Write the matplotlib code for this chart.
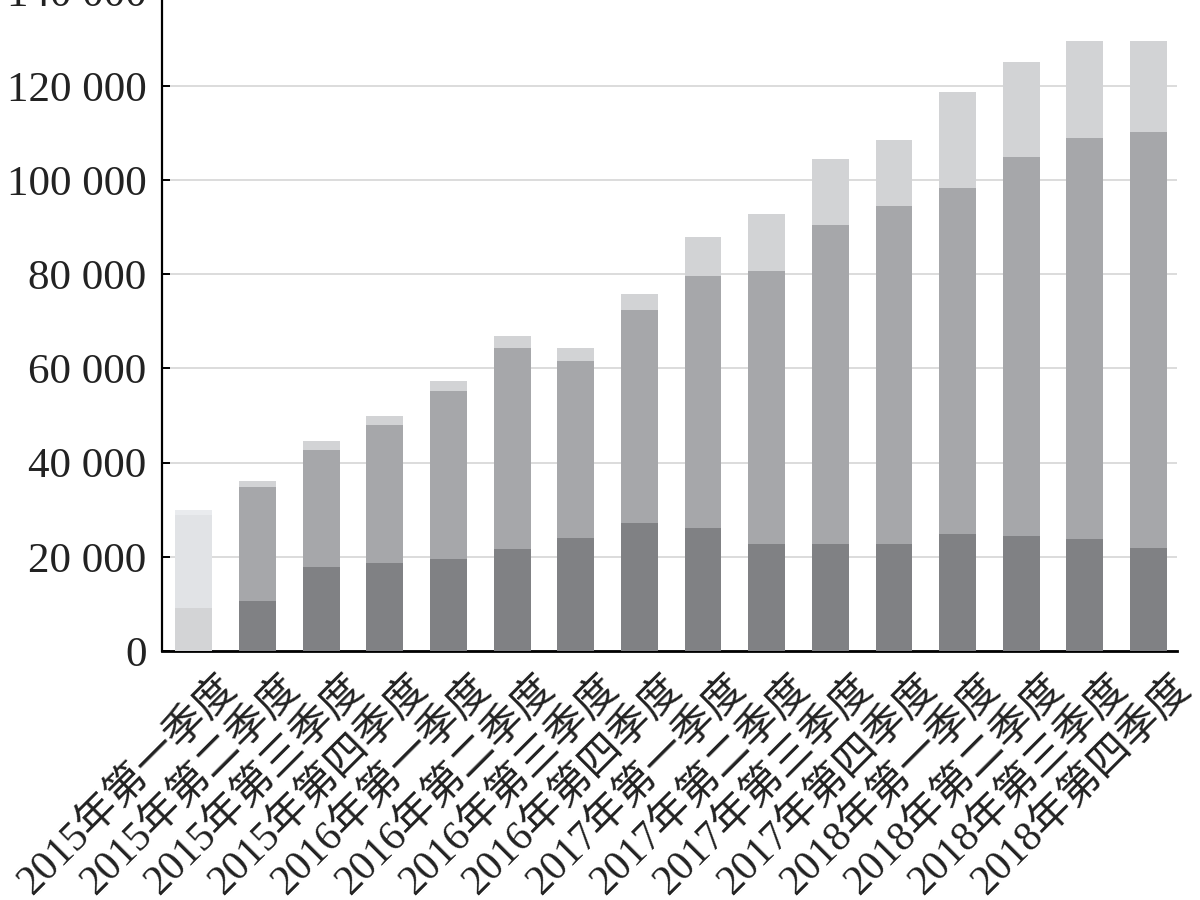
import matplotlib
matplotlib.use("Agg")
import matplotlib.pyplot as plt
import matplotlib.transforms as mtransforms
from matplotlib.ticker import FuncFormatter, MultipleLocator
import numpy as np

categories = [
    "2015年第一季度", "2015年第二季度", "2015年第三季度", "2015年第四季度",
    "2016年第一季度", "2016年第二季度", "2016年第三季度", "2016年第四季度",
    "2017年第一季度", "2017年第二季度", "2017年第三季度", "2017年第四季度",
    "2018年第一季度", "2018年第二季度", "2018年第三季度", "2018年第四季度",
]
series_bottom = [9100, 10600, 17900, 18600, 19500, 21700, 23900, 27200,
                 26100, 22700, 22700, 22700, 24800, 24400, 23800, 21900]
series_middle = [19800, 24200, 24800, 29400, 35800, 42600, 37600, 45200,
                 53600, 58000, 67800, 71700, 73500, 80400, 85200, 88300]
series_top = [1000, 1300, 1900, 2000, 2100, 2500, 2800, 3400,
              8100, 12100, 14000, 14100, 20400, 20300, 20600, 19400]

fig = plt.figure(figsize=(12, 9), dpi=100)
ax = fig.add_axes([0.135, 1 - 651 / 900, 0.846, 659.4 / 900])

x = np.arange(len(categories))
w = 0.58
dark = ["#d3d4d6"] + ["#808184"] * 15
mid = ["#e1e3e6"] + ["#a6a7aa"] * 15
light = ["#e9ebee"] + ["#d2d3d5"] * 15

b = np.array(series_bottom)
m = np.array(series_middle)
t = np.array(series_top)
ax.bar(x, b, w, color=dark, zorder=3)
ax.bar(x, m, w, bottom=b, color=mid, zorder=3)
ax.bar(x, t, w, bottom=b + m, color=light, zorder=3)

ax.set_xlim(-0.5, 15.45)
ax.set_ylim(0, 140000)
ax.yaxis.set_major_locator(MultipleLocator(20000))
ax.yaxis.set_major_formatter(FuncFormatter(lambda v, p: f"{v:,.0f}".replace(",", " ")))
ax.grid(axis="y", color="#d9d9d9", lw=1.3, zorder=0)

for s in ["top", "right"]:
    ax.spines[s].set_visible(False)
ax.spines["left"].set_linewidth(1.6)
ax.spines["bottom"].set_linewidth(2.0)

ax.tick_params(axis="y", direction="in", length=6, width=1.4, pad=11,
               labelsize=31, labelcolor="#222222")
for lab in ax.get_yticklabels():
    lab.set_family(["Liberation Serif", "DejaVu Serif"])

ax.set_xticks(x)
ax.set_xticklabels(categories, rotation=45, ha="right", va="top",
                   fontsize=30, family=["Liberation Serif", "Noto Sans CJK SC"],
                   color="#222222")
ax.tick_params(axis="x", length=0, pad=13)
offset = mtransforms.ScaledTranslation(0.50, 0, fig.dpi_scale_trans)
for lab in ax.get_xticklabels():
    lab.set_transform(lab.get_transform() + offset)

fig.savefig("out.png", dpi=100)
